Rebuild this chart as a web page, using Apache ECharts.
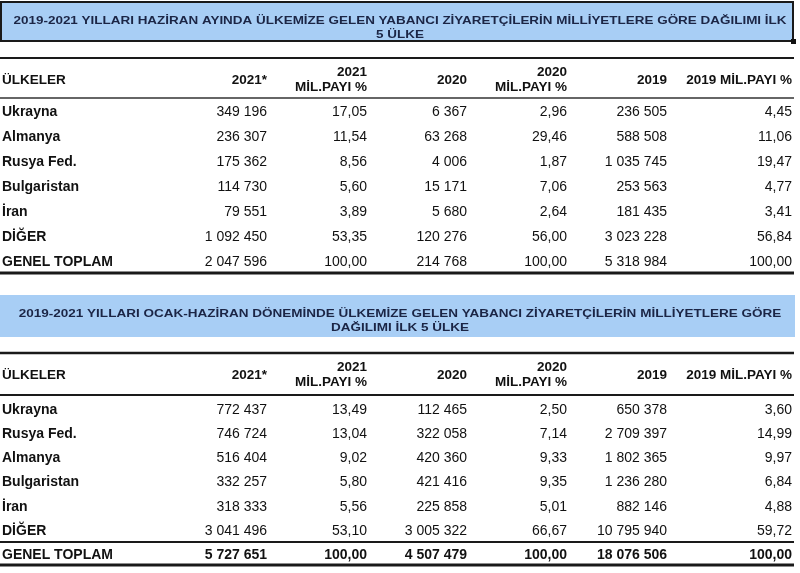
<!DOCTYPE html>
<html><head><meta charset="utf-8">
<script src="https://cdn.jsdelivr.net/npm/echarts@6/dist/echarts.min.js"></script>
<style>html,body{margin:0;padding:0;background:#fff}#c{width:800px;height:573px}</style>
</head><body><div id="c"></div>
<script>
// ---- texts ----
const title1 = ['2019-2021 YILLARI HAZİRAN AYINDA ÜLKEMİZE GELEN YABANCI ZİYARETÇİLERİN MİLLİYETLERE GÖRE DAĞILIMI İLK', '5 ÜLKE'];
const title2 = ['2019-2021 YILLARI OCAK-HAZİRAN DÖNEMİNDE ÜLKEMİZE GELEN YABANCI ZİYARETÇİLERİN MİLLİYETLERE GÖRE', 'DAĞILIMI İLK 5 ÜLKE'];
const headers = ['ÜLKELER', '2021*', '2021\nMİL.PAYI %', '2020', '2020\nMİL.PAYI %', '2019', '2019 MİL.PAYI %'];

// ---- table 1: Haziran ----
const countries1 = ['Ukrayna', 'Almanya', 'Rusya Fed.', 'Bulgaristan', 'İran', 'DİĞER', 'GENEL TOPLAM'];
const v2021_1 = [349196, 236307, 175362, 114730, 79551, 1092450, 2047596];
const p2021_1 = [17.05, 11.54, 8.56, 5.60, 3.89, 53.35, 100.00];
const v2020_1 = [6367, 63268, 4006, 15171, 5680, 120276, 214768];
const p2020_1 = [2.96, 29.46, 1.87, 7.06, 2.64, 56.00, 100.00];
const v2019_1 = [236505, 588508, 1035745, 253563, 181435, 3023228, 5318984];
const p2019_1 = [4.45, 11.06, 19.47, 4.77, 3.41, 56.84, 100.00];

// ---- table 2: Ocak-Haziran ----
const countries2 = ['Ukrayna', 'Rusya Fed.', 'Almanya', 'Bulgaristan', 'İran', 'DİĞER', 'GENEL TOPLAM'];
const v2021_2 = [772437, 746724, 516404, 332257, 318333, 3041496, 5727651];
const p2021_2 = [13.49, 13.04, 9.02, 5.80, 5.56, 53.10, 100.00];
const v2020_2 = [112465, 322058, 420360, 421416, 225858, 3005322, 4507479];
const p2020_2 = [2.50, 7.14, 9.33, 9.35, 5.01, 66.67, 100.00];
const v2019_2 = [650378, 2709397, 1802365, 1236280, 882146, 10795940, 18076506];
const p2019_2 = [3.60, 14.99, 9.97, 6.84, 4.88, 59.72, 100.00];

// ---- layout (not data) ----
const FONT = '"Liberation Sans", Arial, sans-serif';
const colX = [2, 267, 367, 467, 567, 667, 792];
const BLUE = '#a8cef5';
const INK = '#111';

const fmtInt = v => String(v).replace(/\B(?=(\d{3})+(?!\d))/g, ' ');
const fmtPct = v => v.toFixed(2).replace('.', ',');

function buildCells(countries, cols) {
  const cells = [];
  countries.forEach((c, i) => {
    cells.push({ value: [0, i], text: c });
    cols.forEach((arr, j) => {
      const isPct = j % 2 === 1;
      cells.push({ value: [j + 1, i], text: isPct ? fmtPct(arr[i]) : fmtInt(arr[i]) });
    });
  });
  return cells;
}
const cells1 = buildCells(countries1, [v2021_1, p2021_1, v2020_1, p2020_1, v2019_1, p2019_1]);
const cells2 = buildCells(countries2, [v2021_2, p2021_2, v2020_2, p2020_2, v2019_2, p2019_2]);

function makeRender(cells, boldLastRow, nRows) {
  return function (params, api) {
    const col = api.value(0), row = api.value(1);
    const p = api.coord([colX[col], row]);
    const cell = cells[params.dataIndex];
    const bold = col === 0 || (boldLastRow && row === nRows - 1);
    return {
      type: 'text',
      x: p[0], y: p[1],
      style: {
        text: cell.text,
        font: (bold ? 'bold ' : '') + '14px ' + FONT,
        fill: INK,
        align: col === 0 ? 'left' : 'right',
        verticalAlign: 'middle'
      }
    };
  };
}

function headerTexts(centerY) {
  return headers.map((h, j) => ({
    type: 'text',
    x: colX[j], y: centerY,
    style: {
      text: h,
      font: 'bold 13.5px ' + FONT,
      fill: INK,
      align: j === 0 ? 'left' : 'right',
      verticalAlign: 'middle',
      lineHeight: 15
    }
  }));
}
function hline(y, w, color) {
  return { type: 'line', shape: { x1: 0, y1: y, x2: 794, y2: y }, style: { stroke: color || '#1a1a1a', lineWidth: w } };
}
function titleTexts(lines, y1, size, sx) {
  return lines.map((t, k) => ({
    type: 'text', x: 400, y: y1 + k * 13.5, scaleX: sx,
    style: { text: t, font: 'bold ' + size + 'px ' + FONT, fill: '#1b2545', align: 'center', verticalAlign: 'middle' }
  }));
}

const graphic = [
  { type: 'rect', shape: { x: 1, y: 2, width: 792, height: 39 }, style: { fill: BLUE, stroke: '#1a1a1a', lineWidth: 2 } },
  { type: 'rect', shape: { x: 791, y: 39, width: 5, height: 5 }, style: { fill: '#111' } },
  ...titleTexts(title1, 21, 11.5, 1.17),
  hline(58, 2),
  ...headerTexts(80),
  hline(98, 1.5, '#333'),
  hline(273, 3),

  { type: 'rect', shape: { x: 0, y: 295, width: 795, height: 42 }, style: { fill: BLUE } },
  ...titleTexts(title2, 314, 11.5, 1.175),
  hline(353, 2.5),
  ...headerTexts(375),
  hline(395, 2),
  hline(542, 2),
  hline(565, 3)
];

const chart = echarts.init(document.getElementById('c'), null, { renderer: 'canvas' });
chart.setOption({
  animation: false,
  backgroundColor: '#fff',
  grid: [
    { left: 0, width: 800, top: 100, height: 175 },
    { left: 0, width: 800, top: 398, height: 169 }
  ],
  xAxis: [
    { gridIndex: 0, type: 'value', min: 0, max: 800, show: false },
    { gridIndex: 1, type: 'value', min: 0, max: 800, show: false }
  ],
  yAxis: [
    { gridIndex: 0, type: 'category', data: countries1, inverse: true, show: false },
    { gridIndex: 1, type: 'category', data: countries2, inverse: true, show: false }
  ],
  graphic: graphic,
  series: [
    { type: 'custom', xAxisIndex: 0, yAxisIndex: 0, clip: false, renderItem: makeRender(cells1, false, countries1.length), data: cells1.map(c => c.value), z: 10 },
    { type: 'custom', xAxisIndex: 1, yAxisIndex: 1, clip: false, renderItem: makeRender(cells2, true, countries2.length), data: cells2.map(c => c.value), z: 10 }
  ]
});
</script></body></html>
